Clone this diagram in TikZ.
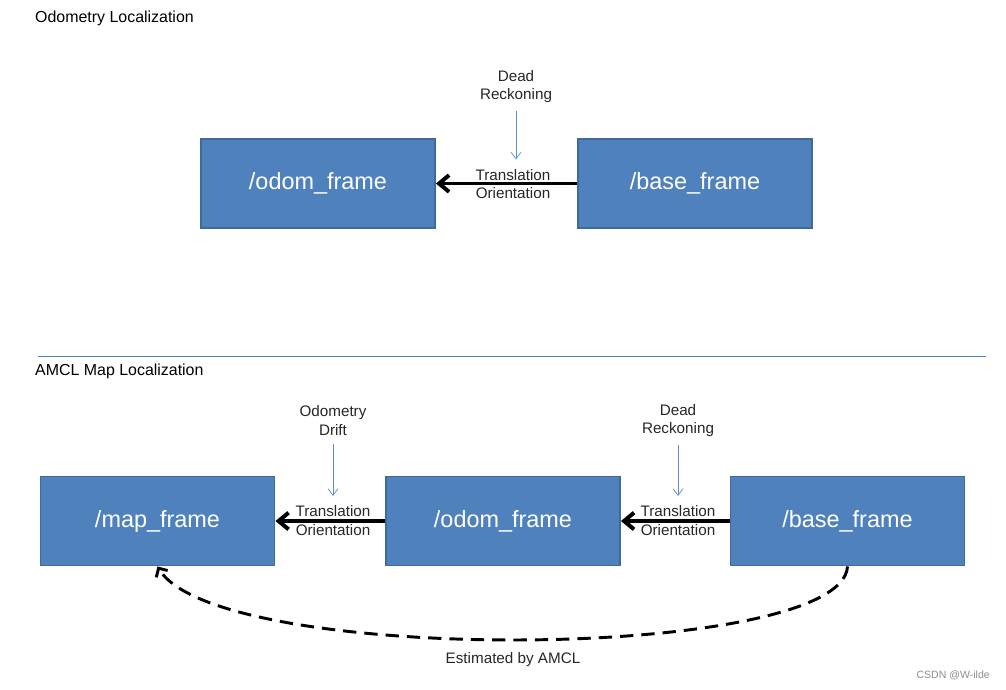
\documentclass[tikz,border=0pt]{standalone}
\usepackage{fontspec}
\setmainfont{Liberation Sans}
\usetikzlibrary{arrows.meta}
\definecolor{boxfill}{HTML}{4F81BD}
\definecolor{boxline}{HTML}{3D6A9F}
\definecolor{driftblue}{HTML}{5B8FD0}
\tikzset{
  framebox/.style={draw=boxline, line width=1.6pt, fill=boxfill, text=white,
    minimum width=70.2mm, minimum height=26.7mm, inner sep=0pt,
    font=\fontsize{20}{24}\selectfont},
  note/.style={align=center, inner sep=1pt, text=black!85,
    font=\fontsize{13}{16}\selectfont},
  title/.style={anchor=west, inner sep=0pt, font=\fontsize{13.6}{16}\selectfont},
  tfarrow/.style={line width=3.4pt, -{Straight Barb[length=3mm,width=5mm]}},
  drift/.style={draw=driftblue, line width=0.6pt,
    -{Straight Barb[length=2mm,width=3mm]}, shorten <=6pt, shorten >=7pt},
  amcl/.style={line width=2.5pt, dash pattern=on 4mm off 2.4mm,
    -{Straight Barb[length=2mm,width=4mm]}}
}
\begin{document}
\begin{tikzpicture}[x=0.3mm, y=-0.3mm]
\useasboundingbox (0,0) rectangle (1006,689);
% Odometry Localization
\node[title] (titleA) at (35,18) {Odometry Localization};
\node[framebox] (odomA) at (318,183.5) {/odom\_frame};
\node[framebox] (baseA) at (695,183.5) {/base\_frame};
\node[note] (deadA) at (516,86.5) {Dead\\Reckoning};
\node[note] (transA) at (513,184) {Translation\\Orientation};
\draw[tfarrow] (baseA.west) -- (odomA.east);
\draw[drift] (deadA.south) -- (deadA.south |- transA.north);
% Trennlinie
\draw[boxfill, line width=0.8pt] (38,356) -- (986,356);
% AMCL Map Localization
\node[title] (titleB) at (35,371) {AMCL Map Localization};
\node[framebox] (mapB) at (157.5,521) {/map\_frame};
\node[framebox] (odomB) at (503,521) {/odom\_frame};
\node[framebox] (baseB) at (847.5,521) {/base\_frame};
\node[note] (driftB) at (333,420.5) {Odometry\\Drift};
\node[note] (transB) at (333,520.5) {Translation\\Orientation};
\node[note] (deadB) at (678,420.5) {Dead\\Reckoning};
\node[note] (transC) at (678,520.5) {Translation\\Orientation};
\draw[tfarrow] (odomB.west) -- (mapB.east);
\draw[tfarrow] (baseB.west) -- (odomB.east);
\draw[drift] (driftB.south) -- (driftB.south |- transB.north);
\draw[drift] (deadB.south) -- (deadB.south |- transC.north);
% Schaetzung
\draw[amcl] (baseB.south) .. controls +(-5,95) and +(60,100) .. (mapB.south);
\node[note] (estB) at (513,660) {Estimated by AMCL};
\node[anchor=east, inner sep=0pt, text=black!45, font=\fontsize{9}{11}\selectfont]
  (mark) at (990,675) {CSDN @W-ilde};
\end{tikzpicture}
\end{document}
